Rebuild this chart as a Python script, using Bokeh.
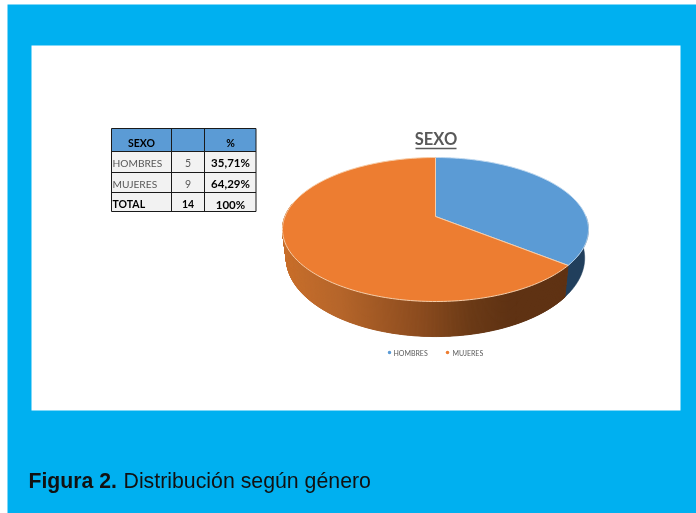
import numpy as np
from bokeh.plotting import figure
from bokeh.models import Range1d
from bokeh.embed import file_html
from bokeh.resources import INLINE
from bokeh.core.properties import value

# --- data ---
categories = ["HOMBRES", "MUJERES"]
counts = [5, 9]
percent_labels = ["35,71%", "64,29%"]
total_label = "TOTAL"
total_count = "14"
total_percent = "100%"
header_labels = ["SEXO", "", "%"]
chart_title = "SEXO"
caption_bold = "Figura 2."
caption_rest = "Distribución según género"
slice_colors = ["#5B9BD5", "#ED7D31"]
side_colors = ["#213F5C", "#5F3213"]
rim_colors = ["#BFD8EF", "#F6CDA9"]

# --- page geometry ---
BLUE = "#00B0F0"
p = figure(width=689, height=509, x_range=Range1d(7, 696), y_range=Range1d(513, 4),
           output_backend="svg", toolbar_location=None, min_border=0,
           background_fill_color=BLUE, border_fill_color=BLUE, outline_line_color=None,
           x_axis_location=None, y_axis_location=None,
           styles={"position": "fixed", "left": "7px", "top": "4px"})
p.grid.visible = False
p.quad(left=[31], right=[680], top=[45], bottom=[410], fill_color="white", line_color=None)

# --- pie projection (tilted disc seen in perspective) ---
CX, APEX_Y, B, A, K = 435.0, 216.0, 150.5, 69.65, 0.1806
DEPTH, SHRINK, A_LOW = 27.3, 0.975, 76.0

def top_pt(th):
    u, v = np.sin(th), -np.cos(th)
    w = 1 - K * v
    return CX + B * u / w, APEX_Y + A * v / w

def low_pt(th):
    u, v = np.sin(th), -np.cos(th)
    w = 1 - K * v
    return CX + SHRINK * B * u / w, APEX_Y + DEPTH + A_LOW * v / w

shares = np.array(counts, dtype=float) / sum(counts)
edges = np.concatenate([[0.0], np.cumsum(shares)]) * 2 * np.pi

# blue side wall
th = np.linspace(np.pi / 2, edges[1], 40)
tx, ty = top_pt(th)
lx, ly = low_pt(th)
p.patch(np.r_[tx, lx[::-1]], np.r_[ty, ly[::-1]], fill_color=side_colors[0], line_color=side_colors[0], line_width=0.5)

# orange side wall, shaded along x
stops_x = [285, 340, 420, 470, 510, 570]
stops_rgb = np.array([[200, 111, 44], [181, 101, 42], [139, 75, 30], [107, 58, 22], [95, 50, 19], [95, 50, 19]], dtype=float)
th = np.linspace(edges[1], 1.56 * np.pi, 421)
tx, ty = top_pt(th)
lx, ly = low_pt(th)
xs, ys, cols = [], [], []
for i in range(len(th) - 1):
    xs.append([tx[i], tx[i + 1], lx[i + 1], lx[i]])
    ys.append([ty[i], ty[i + 1], ly[i + 1], ly[i]])
    mid = (tx[i] + tx[i + 1]) / 2
    c = [int(np.interp(mid, stops_x, stops_rgb[:, k])) for k in range(3)]
    cols.append("#%02x%02x%02x" % tuple(c))
p.patches(xs, ys, fill_color=cols, line_color=cols, line_width=1)

# top faces
for i in range(2):
    th = np.linspace(edges[i], edges[i + 1], 200)
    x, y = top_pt(th)
    x = np.r_[CX, x]
    y = np.r_[APEX_Y, y]
    p.patch(x, y, fill_color=slice_colors[i], line_color=rim_colors[i], line_width=1)

# title
FONT = value("Lato")
p.text([435.5], [138.5], text=[chart_title], text_font=FONT, text_font_size="16.5px", text_font_style="bold",
       text_color="#595959", text_align="center", text_baseline="middle")
p.segment([415], [148], [456], [148], line_color="#595959", line_width=1.5)

# legend
leg_x = [389, 447]
p.scatter(leg_x, [352, 352], size=3.5, marker="circle", color=slice_colors, line_color=None)
p.text([393, 452], [352.2, 352.2], text=categories, text_font=FONT, text_font_size="7px",
       text_color="#595959", text_align="left", text_baseline="middle")

# table
col_x = [111, 171, 204, 255.5]
row_y = [128, 151, 172, 192, 211]
p.quad(left=[col_x[0]], right=[col_x[3]], top=[row_y[0]], bottom=[row_y[1]], fill_color=slice_colors[0], line_color=None)
p.quad(left=[col_x[0]], right=[col_x[3]], top=[row_y[1]], bottom=[row_y[4]], fill_color="#F2F2F2", line_color=None)
p.segment([col_x[0]] * 5, row_y, [col_x[3]] * 5, row_y, line_color="#1a1a1a", line_width=1)
p.segment(col_x, [row_y[0]] * 4, col_x, [row_y[4]] * 4, line_color="#1a1a1a", line_width=1)

col_c = [141, 187.5, 230]
def cell(x, y, s, color, bold=False, align="center", size="10.5px"):
    p.text([x], [y], text=[s], text_font=FONT, text_font_size=size, text_color=color,
           text_font_style="bold" if bold else "normal", text_align=align, text_baseline="middle")

for c, s in zip(col_c, header_labels):
    if s:
        cell(c, 142, s, "#000000", bold=True)
for i, row in enumerate([(categories[0], counts[0], percent_labels[0]), (categories[1], counts[1], percent_labels[1])]):
    y = [162, 183][i]
    cell(112, y, row[0], "#595959", align="left", size="10.2px")
    cell(col_c[1], y, str(row[1]), "#595959")
    cell(col_c[2], y, row[2], "#000000", bold=True, size="11.5px")
cell(112, 203.5, total_label, "#000000", bold=True, align="left")
cell(col_c[1], 203.5, total_count, "#000000", bold=True)
cell(col_c[2], 203.5, total_percent, "#000000", bold=True, size="11.5px")

# caption
CAP = value("Liberation Sans")
p.text([28], [480], text=[caption_bold], text_font=CAP, text_font_size="21.2px", text_font_style="bold",
       text_color="#111111", text_align="left", text_baseline="middle")
p.text([123], [480], text=[caption_rest], text_font=CAP, text_font_size="21.3px",
       text_color="#111111", text_align="left", text_baseline="middle")

open("out.html", "w").write(file_html(p, INLINE))
